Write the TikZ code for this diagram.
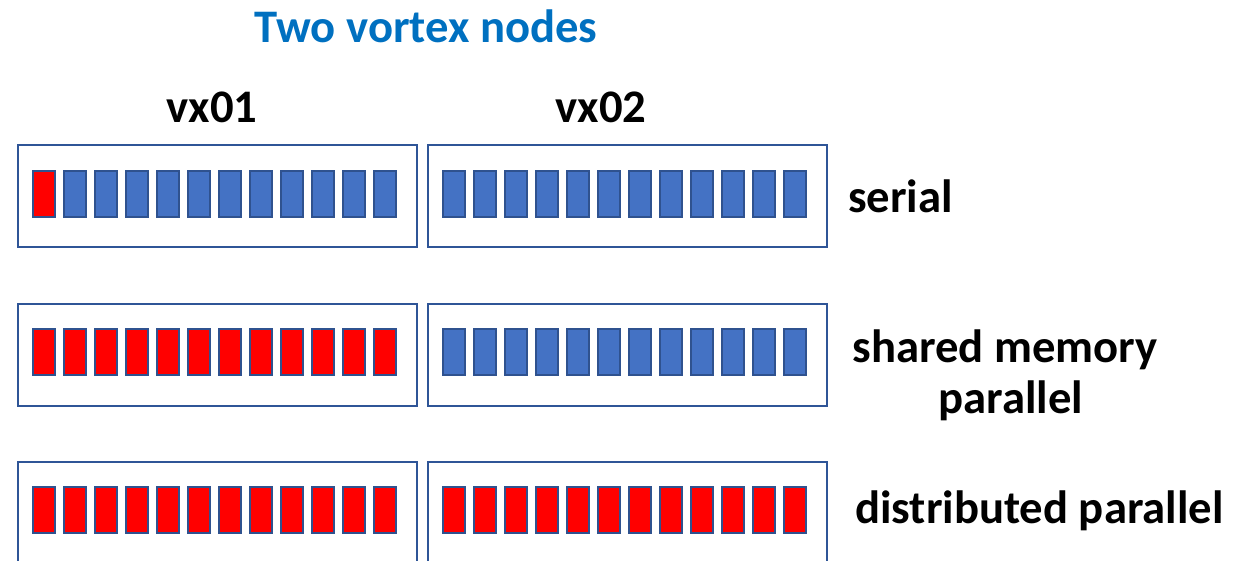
\documentclass[tikz,border=0pt]{standalone}
\usepackage{fontspec}
\setmainfont{Carlito}
\definecolor{boxblue}{HTML}{2F5597}
\definecolor{coreblue}{HTML}{4472C4}
\definecolor{coreedge}{HTML}{2F528F}
\definecolor{titleblue}{HTML}{0070C0}
\tikzset{
  node box/.style={draw=boxblue, line width=2.2pt},
  idle core/.style={draw=coreedge, line width=1.6pt, fill=coreblue},
  busy core/.style={draw=coreedge, line width=1.6pt, fill=red},
  txt/.style={font=\fontsize{35}{40}\selectfont\bfseries, inner sep=0pt}
}
\begin{document}
\begin{tikzpicture}[x=0.75pt,y=-0.75pt]
    \useasboundingbox (0,0) rectangle (1234,560);
    \clip (0,0) rectangle (1234,560);

    % Headings
    \node[txt, text=titleblue, anchor=base] (title) at (426,43) {Two vortex nodes};
    \node[txt, anchor=base] (vxa) at (212,122) {vx01};
    \node[txt, anchor=base] (vxb) at (601,122) {vx02};

    % Serial: one core busy on vx01
    \draw[node box] (18,145) rectangle (417,247);
    \draw[node box] (428,145) rectangle (827,247);
    \draw[busy core] (33,171) rectangle +(22,46);
    \foreach \i in {1,...,11}
        \draw[idle core] ({33+31*\i},171) rectangle +(22,46);
    \foreach \i in {0,...,11}
        \draw[idle core] ({443+31*\i},171) rectangle +(22,46);
    \node[txt, anchor=base west] (serial) at (848,212) {serial};

    % Shared memory: all cores of vx01 busy
    \draw[node box] (18,304) rectangle (417,406);
    \draw[node box] (428,304) rectangle (827,406);
    \foreach \i in {0,...,11} {
        \draw[busy core] ({33+31*\i},329) rectangle +(22,46);
        \draw[idle core] ({443+31*\i},329) rectangle +(22,46);
    }
    \node[txt, anchor=base] (shared) at (1005,362) {shared memory};
    \node[txt, anchor=base] (sharedb) at (1011,413) {parallel};

    % Distributed: cores of both nodes busy
    \draw[node box] (18,462) rectangle (417,564);
    \draw[node box] (428,462) rectangle (827,564);
    \foreach \i in {0,...,11} {
        \draw[busy core] ({33+31*\i},487) rectangle +(22,46);
        \draw[busy core] ({443+31*\i},487) rectangle +(22,46);
    }
    \node[txt, anchor=base west] (distrib) at (855,523) {distributed parallel};
\end{tikzpicture}
\end{document}
